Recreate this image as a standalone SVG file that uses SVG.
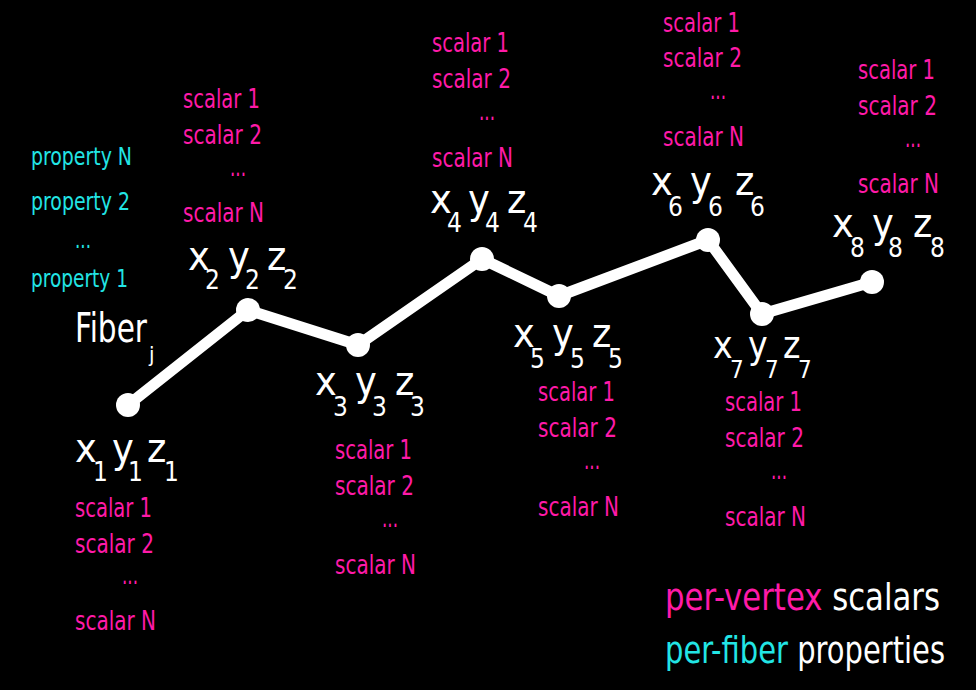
<svg xmlns="http://www.w3.org/2000/svg" width="976" height="690" viewBox="0 0 976 690">
<style>
text{font-family:"DejaVu Sans Condensed","Liberation Sans Narrow","Roboto","DejaVu Sans",sans-serif;font-stretch:condensed}
.s{fill:#ff1aa8;font-size:27px}
.p{fill:#22e5e5;font-size:25px}
.c{fill:#ffffff;font-size:41px}
.c tspan.b{font-size:26px}
.c7{fill:#ffffff;font-size:37px}
.c7 tspan.b{font-size:24px}
.lg{font-size:38px}
.w{fill:#ffffff}
.m{fill:#ff1aa8}
.cy{fill:#22e5e5}
.v{fill:#ffffff}
.e{stroke:#ffffff;stroke-width:11;stroke-linecap:round;fill:none}
</style>
<rect width="976" height="690" fill="#000000"/>
<g id="connectors">
<line class="e" x1="128" y1="405" x2="248" y2="310"/>
<line class="e" x1="248" y1="310" x2="358" y2="345"/>
<line class="e" x1="358" y1="345" x2="482" y2="259"/>
<line class="e" x1="482" y1="259" x2="559" y2="296"/>
<line class="e" x1="559" y1="296" x2="708" y2="240"/>
<line class="e" x1="708" y1="240" x2="762" y2="314"/>
<line class="e" x1="762" y1="314" x2="872" y2="282"/>
</g>
<g id="fiber">
<text class="w" x="75" y="342" font-size="41" textLength="72" lengthAdjust="spacingAndGlyphs">Fiber</text>
<text class="w" x="149" y="362" font-size="22">j</text>
<text class="p" x="31" y="165" textLength="101" lengthAdjust="spacingAndGlyphs">property N</text>
<text class="p" x="31" y="210" textLength="99" lengthAdjust="spacingAndGlyphs">property 2</text>
<text class="p" x="75" y="248" textLength="16" lengthAdjust="spacingAndGlyphs">...</text>
<text class="p" x="31" y="287" textLength="97" lengthAdjust="spacingAndGlyphs">property 1</text>
</g>
<g id="v1">
<circle class="v" cx="128" cy="405" r="12"/>
<text class="c"><tspan x="75" y="462">x</tspan><tspan class="b" x="93" y="481">1</tspan><tspan x="112" y="462">y</tspan><tspan class="b" x="128" y="481">1</tspan><tspan x="147" y="462">z</tspan><tspan class="b" x="164" y="481">1</tspan></text>
<text class="s" x="75" y="517" textLength="77" lengthAdjust="spacingAndGlyphs">scalar 1</text>
<text class="s" x="75" y="553" textLength="79" lengthAdjust="spacingAndGlyphs">scalar 2</text>
<text class="s" x="122" y="584" textLength="16" lengthAdjust="spacingAndGlyphs">...</text>
<text class="s" x="75" y="630" textLength="81" lengthAdjust="spacingAndGlyphs">scalar N</text>
</g>
<g id="v2">
<circle class="v" cx="248" cy="310" r="12"/>
<text class="c"><tspan x="188" y="270">x</tspan><tspan class="b" x="205" y="289">2</tspan><tspan x="228" y="270">y</tspan><tspan class="b" x="245" y="289">2</tspan><tspan x="267" y="270">z</tspan><tspan class="b" x="283" y="289">2</tspan></text>
<text class="s" x="183" y="108" textLength="77" lengthAdjust="spacingAndGlyphs">scalar 1</text>
<text class="s" x="183" y="144" textLength="79" lengthAdjust="spacingAndGlyphs">scalar 2</text>
<text class="s" x="230" y="176" textLength="16" lengthAdjust="spacingAndGlyphs">...</text>
<text class="s" x="183" y="222" textLength="81" lengthAdjust="spacingAndGlyphs">scalar N</text>
</g>
<g id="v3">
<circle class="v" cx="358" cy="345" r="12"/>
<text class="c"><tspan x="315" y="395">x</tspan><tspan class="b" x="333" y="416">3</tspan><tspan x="355" y="395">y</tspan><tspan class="b" x="372" y="416">3</tspan><tspan x="395" y="395">z</tspan><tspan class="b" x="410" y="416">3</tspan></text>
<text class="s" x="335" y="459" textLength="77" lengthAdjust="spacingAndGlyphs">scalar 1</text>
<text class="s" x="335" y="495" textLength="79" lengthAdjust="spacingAndGlyphs">scalar 2</text>
<text class="s" x="382" y="527" textLength="16" lengthAdjust="spacingAndGlyphs">...</text>
<text class="s" x="335" y="574" textLength="81" lengthAdjust="spacingAndGlyphs">scalar N</text>
</g>
<g id="v4">
<circle class="v" cx="482" cy="259" r="12"/>
<text class="c"><tspan x="430" y="213">x</tspan><tspan class="b" x="447" y="232">4</tspan><tspan x="468" y="213">y</tspan><tspan class="b" x="485" y="232">4</tspan><tspan x="507" y="213">z</tspan><tspan class="b" x="523" y="232">4</tspan></text>
<text class="s" x="432" y="52" textLength="77" lengthAdjust="spacingAndGlyphs">scalar 1</text>
<text class="s" x="432" y="88" textLength="79" lengthAdjust="spacingAndGlyphs">scalar 2</text>
<text class="s" x="479" y="120" textLength="16" lengthAdjust="spacingAndGlyphs">...</text>
<text class="s" x="432" y="167" textLength="81" lengthAdjust="spacingAndGlyphs">scalar N</text>
</g>
<g id="v5">
<circle class="v" cx="559" cy="296" r="12"/>
<text class="c"><tspan x="513" y="347">x</tspan><tspan class="b" x="530" y="368">5</tspan><tspan x="552" y="347">y</tspan><tspan class="b" x="570" y="368">5</tspan><tspan x="592" y="347">z</tspan><tspan class="b" x="608" y="368">5</tspan></text>
<text class="s" x="538" y="401" textLength="77" lengthAdjust="spacingAndGlyphs">scalar 1</text>
<text class="s" x="538" y="437" textLength="79" lengthAdjust="spacingAndGlyphs">scalar 2</text>
<text class="s" x="584" y="469" textLength="16" lengthAdjust="spacingAndGlyphs">...</text>
<text class="s" x="538" y="516" textLength="81" lengthAdjust="spacingAndGlyphs">scalar N</text>
</g>
<g id="v6">
<circle class="v" cx="708" cy="240" r="12"/>
<text class="c"><tspan x="651" y="195">x</tspan><tspan class="b" x="668" y="216">6</tspan><tspan x="690" y="195">y</tspan><tspan class="b" x="708" y="216">6</tspan><tspan x="735" y="195">z</tspan><tspan class="b" x="750" y="216">6</tspan></text>
<text class="s" x="663" y="32" textLength="77" lengthAdjust="spacingAndGlyphs">scalar 1</text>
<text class="s" x="663" y="67" textLength="79" lengthAdjust="spacingAndGlyphs">scalar 2</text>
<text class="s" x="710" y="99" textLength="16" lengthAdjust="spacingAndGlyphs">...</text>
<text class="s" x="663" y="146" textLength="81" lengthAdjust="spacingAndGlyphs">scalar N</text>
</g>
<g id="v7">
<circle class="v" cx="762" cy="314" r="12"/>
<text class="c7"><tspan x="713" y="358">x</tspan><tspan class="b" x="730" y="378">7</tspan><tspan x="748" y="358">y</tspan><tspan class="b" x="765" y="378">7</tspan><tspan x="783" y="358">z</tspan><tspan class="b" x="798" y="378">7</tspan></text>
<text class="s" x="725" y="411" textLength="77" lengthAdjust="spacingAndGlyphs">scalar 1</text>
<text class="s" x="725" y="447" textLength="79" lengthAdjust="spacingAndGlyphs">scalar 2</text>
<text class="s" x="771" y="479" textLength="16" lengthAdjust="spacingAndGlyphs">...</text>
<text class="s" x="725" y="526" textLength="81" lengthAdjust="spacingAndGlyphs">scalar N</text>
</g>
<g id="v8">
<circle class="v" cx="872" cy="282" r="12"/>
<text class="c"><tspan x="832" y="237">x</tspan><tspan class="b" x="850" y="257">8</tspan><tspan x="872" y="237">y</tspan><tspan class="b" x="888" y="257">8</tspan><tspan x="913" y="237">z</tspan><tspan class="b" x="930" y="257">8</tspan></text>
<text class="s" x="858" y="79" textLength="77" lengthAdjust="spacingAndGlyphs">scalar 1</text>
<text class="s" x="858" y="115" textLength="79" lengthAdjust="spacingAndGlyphs">scalar 2</text>
<text class="s" x="905" y="147" textLength="16" lengthAdjust="spacingAndGlyphs">...</text>
<text class="s" x="858" y="193" textLength="81" lengthAdjust="spacingAndGlyphs">scalar N</text>
</g>
<g id="legend">
<text class="lg" x="665" y="610" textLength="275" lengthAdjust="spacingAndGlyphs"><tspan class="m">per-vertex</tspan><tspan class="w"> scalars</tspan></text>
<text class="lg" x="665" y="663" textLength="280" lengthAdjust="spacingAndGlyphs"><tspan class="cy">per-fiber</tspan><tspan class="w"> properties</tspan></text>
</g>
</svg>
